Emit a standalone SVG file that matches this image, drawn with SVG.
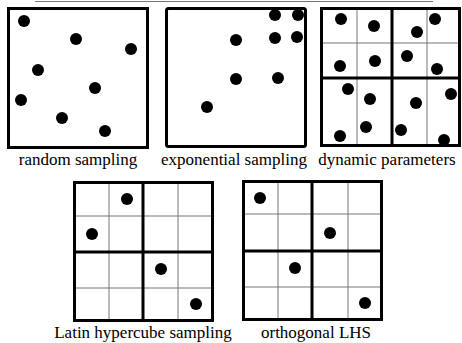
<svg xmlns="http://www.w3.org/2000/svg" width="462" height="343" viewBox="0 0 462 343">
<style>
.box{fill:none;stroke:#000;stroke-width:3}
.thin{stroke:#777;stroke-width:1}
.thick{stroke:#000;stroke-width:3}
.dot{fill:#000}
.lbl{font-family:"Liberation Serif","Times New Roman",serif;font-size:17px;fill:#000;text-anchor:middle}
</style>
<rect width="462" height="343" fill="#fff"/>
<line x1="35" y1="1.5" x2="433" y2="1.5" stroke="#777" stroke-width="1.2"/>
<g id="random">
<rect class="box" x="8.5" y="8.5" width="139" height="139"/>
<g class="dot"><circle cx="24" cy="21" r="6"/><circle cx="76" cy="39" r="6"/><circle cx="131" cy="49" r="6"/><circle cx="38" cy="70" r="6"/><circle cx="95" cy="88" r="6"/><circle cx="21" cy="100" r="6"/><circle cx="62" cy="118" r="6"/><circle cx="105" cy="131" r="6"/></g>
<text class="lbl" x="78" y="165">random sampling</text>
</g>
<g id="exponential">
<rect class="box" x="166.5" y="8.5" width="139" height="138" rx="2"/>
<g class="dot"><circle cx="275" cy="15" r="6"/><circle cx="298" cy="15" r="6"/><circle cx="236" cy="40" r="6"/><circle cx="275" cy="38" r="6"/><circle cx="297" cy="37" r="6"/><circle cx="236" cy="79" r="6"/><circle cx="278" cy="78" r="6"/><circle cx="207" cy="107" r="6"/></g>
<text class="lbl" x="234" y="165">exponential sampling</text>
</g>
<g id="dynamic">
<line class="thin" x1="321" y1="43" x2="460" y2="43"/>
<line class="thin" x1="357" y1="8" x2="357" y2="146"/>
<line class="thin" x1="427" y1="8" x2="427" y2="146"/>
<line class="thick" x1="392" y1="8" x2="392" y2="146"/>
<line class="thick" x1="321" y1="78" x2="460" y2="78"/>
<rect class="box" x="321.5" y="8.5" width="138" height="137"/>
<g class="dot"><circle cx="341" cy="19" r="6"/><circle cx="374" cy="26" r="6"/><circle cx="417" cy="32" r="6"/><circle cx="435" cy="19" r="6"/><circle cx="340" cy="66" r="6"/><circle cx="375" cy="61" r="6"/><circle cx="407" cy="56" r="6"/><circle cx="437" cy="69" r="6"/><circle cx="348" cy="89" r="6"/><circle cx="370" cy="99" r="6"/><circle cx="416" cy="103" r="6"/><circle cx="451" cy="94" r="6"/><circle cx="366" cy="127" r="6"/><circle cx="401" cy="130" r="6"/><circle cx="340" cy="136" r="6"/><circle cx="444" cy="140" r="6"/></g>
<text class="lbl" x="387" y="165">dynamic parameters</text>
</g>
<g id="lhs">
<line class="thin" x1="109" y1="182" x2="109" y2="320"/>
<line class="thin" x1="178" y1="182" x2="178" y2="320"/>
<line class="thin" x1="74" y1="216" x2="213" y2="216"/>
<line class="thin" x1="74" y1="288" x2="213" y2="288"/>
<line class="thick" x1="143" y1="182" x2="143" y2="320"/>
<line class="thick" x1="74" y1="252" x2="213" y2="252"/>
<rect class="box" x="74.5" y="182.5" width="138" height="138"/>
<g class="dot"><circle cx="127" cy="199" r="6"/><circle cx="92" cy="234" r="6"/><circle cx="161" cy="269" r="6"/><circle cx="196" cy="304" r="6"/></g>
<text class="lbl" x="143" y="338">Latin hypercube sampling</text>
</g>
<g id="olhs">
<line class="thin" x1="278" y1="181" x2="278" y2="319"/>
<line class="thin" x1="348" y1="181" x2="348" y2="319"/>
<line class="thin" x1="243" y1="214" x2="382" y2="214"/>
<line class="thin" x1="243" y1="287" x2="382" y2="287"/>
<line class="thick" x1="312" y1="181" x2="312" y2="319"/>
<line class="thick" x1="243" y1="251" x2="382" y2="251"/>
<rect class="box" x="243.5" y="181.5" width="138" height="138"/>
<g class="dot"><circle cx="260" cy="198" r="6"/><circle cx="330" cy="233" r="6"/><circle cx="295" cy="268" r="6"/><circle cx="365" cy="303" r="6"/></g>
<text class="lbl" x="316" y="338">orthogonal LHS</text>
</g>
</svg>
